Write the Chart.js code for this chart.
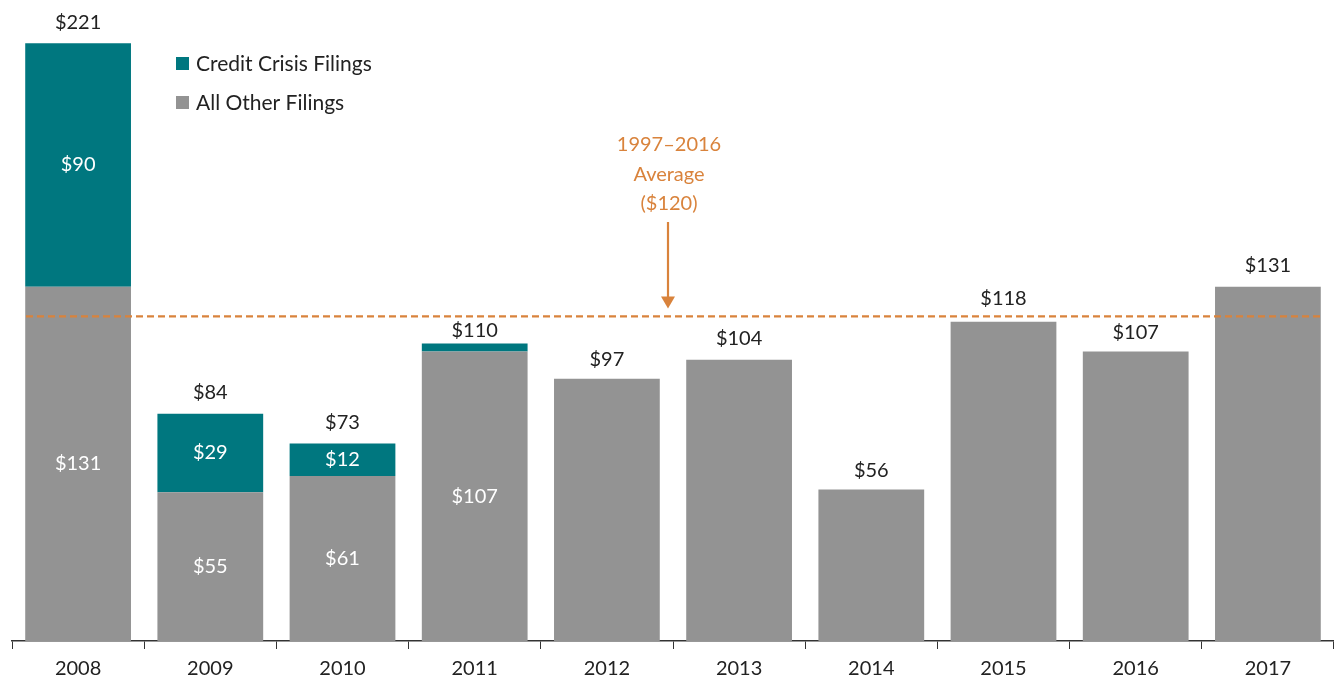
<!DOCTYPE html>
<html>
<head>
<meta charset="utf-8">
<script src="https://cdn.jsdelivr.net/npm/chart.js@4.4.1/dist/chart.umd.min.js"></script>
<style>
  html, body { margin: 0; padding: 0; background: #fff; }
  #wrap { width: 1334px; height: 681px; position: relative; }
</style>
</head>
<body>
<div id="wrap"><canvas id="filingsChart"></canvas></div>
<script>
// data
const years = ['2008', '2009', '2010', '2011', '2012', '2013', '2014', '2015', '2016', '2017'];
const creditCrisis = [90, 29, 12, 3, 0, 0, 0, 0, 0, 0];
const allOther = [131, 55, 61, 107, 97, 104, 56, 118, 107, 131];
const averageValue = 120;
const averageLines = ['1997\u20132016', 'Average', '($120)'];
// total label lifted less on 2011 so it clears the average line
const totalOffsets = [21, 21, 21, 13, 19, 21, 19, 23, 19, 21];

const TEAL = '#00777f';
const GREY = '#939393';
const ORANGE = '#d9833c';
const FONT = 'Lato, "Open Sans", sans-serif';

const labelsPlugin = {
    id: 'barLabels',
    afterDatasetsDraw(chart) {
        const ctx = chart.ctx;
        const y = chart.scales.y;
        const otherMeta = chart.getDatasetMeta(0);
        ctx.save();
        ctx.textAlign = 'center';
        ctx.textBaseline = 'middle';
        ctx.font = '20px ' + FONT;
        years.forEach((yr, i) => {
            const x = otherMeta.data[i].x;
            const total = allOther[i] + creditCrisis[i];
            ctx.fillStyle = '#222';
            ctx.fillText('$' + total, x, y.getPixelForValue(total) - totalOffsets[i]);
            ctx.fillStyle = '#fff';
            if (creditCrisis[i] > 5) {
                ctx.fillText('$' + creditCrisis[i], x, y.getPixelForValue(allOther[i] + creditCrisis[i] / 2));
            }
            if (creditCrisis[i] > 0) {
                ctx.fillText('$' + allOther[i], x, y.getPixelForValue(allOther[i] / 2));
            }
        });
        ctx.restore();
    }
};

const averagePlugin = {
    id: 'averageLine',
    afterDatasetsDraw(chart) {
        const ctx = chart.ctx;
        const area = chart.chartArea;
        const yPix = chart.scales.y.getPixelForValue(averageValue);
        ctx.save();
        ctx.strokeStyle = ORANGE;
        ctx.lineWidth = 2.2;
        ctx.setLineDash([7, 4]);
        ctx.beginPath();
        ctx.moveTo(area.left + 14, yPix);
        ctx.lineTo(area.right - 10, yPix);
        ctx.stroke();
        ctx.setLineDash([]);

        const ax = 668;
        ctx.lineWidth = 2.2;
        ctx.beginPath();
        ctx.moveTo(ax, 222);
        ctx.lineTo(ax, yPix - 18);
        ctx.stroke();
        ctx.fillStyle = ORANGE;
        ctx.beginPath();
        ctx.moveTo(ax - 7, yPix - 20);
        ctx.lineTo(ax + 7, yPix - 20);
        ctx.lineTo(ax, yPix - 8);
        ctx.closePath();
        ctx.fill();

        ctx.font = '20px ' + FONT;
        ctx.textAlign = 'center';
        ctx.textBaseline = 'middle';
        averageLines.forEach((t, k) => ctx.fillText(t, ax + 1, 145 + k * 29.5));
        ctx.restore();
    }
};

const legendPlugin = {
    id: 'customLegend',
    afterDraw(chart) {
        const ctx = chart.ctx;
        const items = [['Credit Crisis Filings', TEAL], ['All Other Filings', GREY]];
        ctx.save();
        ctx.font = '21px ' + FONT;
        ctx.textBaseline = 'middle';
        items.forEach((it, k) => {
            const cy = 64 + k * 39;
            ctx.fillStyle = it[1];
            ctx.fillRect(176, cy - 7, 13, 13);
            ctx.fillStyle = '#222';
            ctx.fillText(it[0], 196, cy);
        });
        ctx.restore();
    }
};

new Chart(document.getElementById('filingsChart'), {
    type: 'bar',
    data: {
        labels: years,
        datasets: [
            {
                label: 'All Other Filings',
                data: allOther,
                backgroundColor: GREY,
                borderWidth: 0,
                categoryPercentage: 0.8,
                barPercentage: 1.0
            },
            {
                label: 'Credit Crisis Filings',
                data: creditCrisis,
                backgroundColor: TEAL,
                borderWidth: 0,
                categoryPercentage: 0.8,
                barPercentage: 1.0
            }
        ]
    },
    options: {
        responsive: true,
        maintainAspectRatio: false,
        animation: false,
        layout: { padding: { left: 12, right: 0, top: 0, bottom: -8 } },
        plugins: {
            legend: { display: false },
            tooltip: { enabled: false }
        },
        scales: {
            x: {
                stacked: true,
                grid: {
                    display: true,
                    offset: true,
                    drawOnChartArea: false,
                    drawTicks: true,
                    tickLength: 8,
                    color: '#333'
                },
                border: { display: true, color: '#333', width: 1.5 },
                ticks: {
                    color: '#222',
                    font: { family: FONT, size: 20 },
                    padding: 8
                }
            },
            y: {
                stacked: true,
                display: false,
                min: 0,
                max: 237
            }
        }
    },
    plugins: [labelsPlugin, averagePlugin, legendPlugin]
});
</script>
</body>
</html>
